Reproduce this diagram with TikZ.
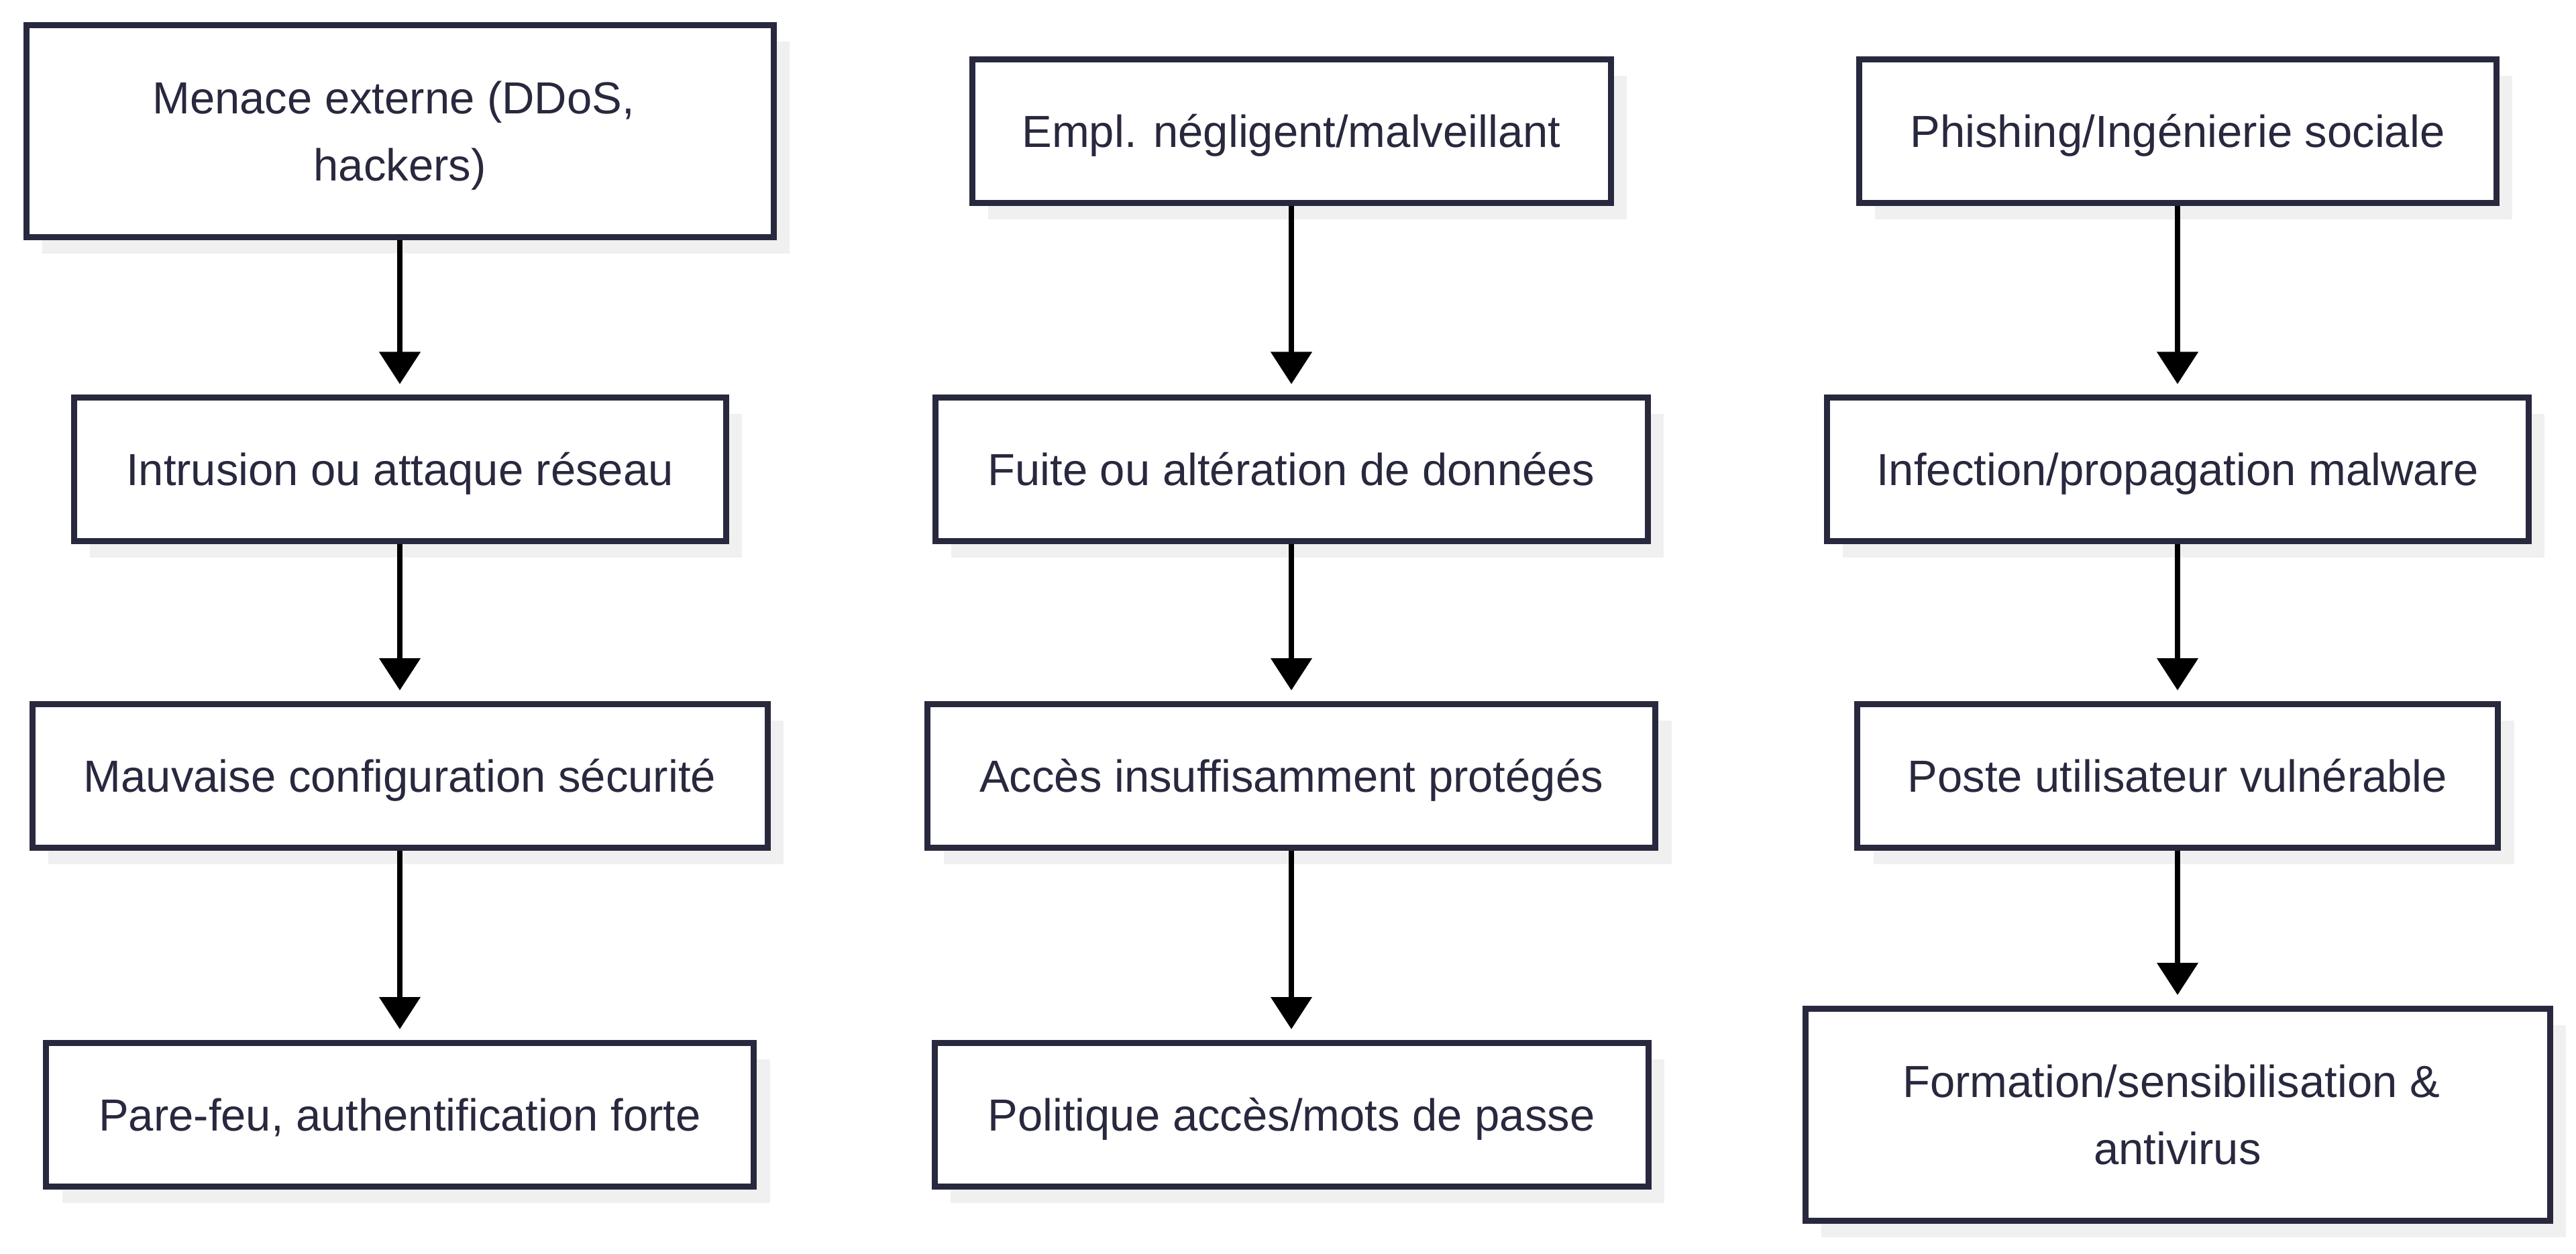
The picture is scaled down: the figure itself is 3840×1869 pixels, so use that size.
\documentclass[tikz,border=0pt]{standalone}
\usepackage{fontspec}
\setmainfont{Liberation Sans}
\usetikzlibrary{arrows.meta,shadows}
\definecolor{ink}{RGB}{40,40,62}
\definecolor{shade}{RGB}{240,240,240}
\newcommand\twoline[2]{\raisebox{0pt}[12pt][25pt]{\begin{tabular}[t]{@{}c@{}}#1\hspace*{0.278em}\\#2\end{tabular}}}
\begin{document}
\begin{tikzpicture}[x=0.25pt, y=-0.25pt,
  font=\fontsize{16.75}{25}\selectfont,
  box/.style={draw=ink, line width=2.25pt, fill=white, rectangle, inner sep=0pt,
    minimum height=53.5pt, text=ink, align=center,
    drop shadow={shadow xshift=6pt, shadow yshift=-6pt, fill=shade, opacity=1}},
  one/.style={text height=12pt, text depth=0pt},
  tall/.style={minimum height=79pt},
  arr/.style={draw=black, line width=2pt, -{Triangle[length=12pt,width=15pt]}, shorten >=4pt}]
\fill[white] (0,0) rectangle (3840,1869);
\useasboundingbox (0,0) rectangle (3840,1869);
% column 1
\node[box, tall, minimum width=278.5pt] (a1) at (596,196) {\twoline{Menace externe (DDoS,}{hackers)}};
\node[box, one, minimum width=243pt] (a2) at (596,700) {Intrusion ou attaque réseau};
\node[box, one, minimum width=274pt] (a3) at (596,1156.5) {Mauvaise configuration sécurité};
\node[box, one, minimum width=263.75pt] (a4) at (596,1661.5) {Pare-feu, authentification forte};
% column 2
\node[box, one, minimum width=238pt] (b1) at (1925,196) {Empl. négligent/malveillant};
\node[box, one, minimum width=265.5pt] (b2) at (1925,700) {Fuite ou altération de données};
\node[box, one, minimum width=271.25pt] (b3) at (1925,1156.5) {Accès insuffisamment protégés};
\node[box, one, minimum width=266pt] (b4) at (1925,1661.5) {Politique accès/mots de passe};
% column 3
\node[box, one, minimum width=237.5pt] (c1) at (3246,196) {Phishing/Ingénierie sociale};
\node[box, one, minimum width=261.5pt] (c2) at (3246,700) {Infection/propagation malware};
\node[box, one, minimum width=238.75pt] (c3) at (3246,1156.5) {Poste utilisateur vulnérable};
\node[box, tall, minimum width=277.5pt] (c4) at (3246,1661.5) {\twoline{Formation/sensibilisation \&}{antivirus}};
% arrows
\draw[arr] (a1.south) -- (a2.north);
\draw[arr] (a2.south) -- (a3.north);
\draw[arr] (a3.south) -- (a4.north);
\draw[arr] (b1.south) -- (b2.north);
\draw[arr] (b2.south) -- (b3.north);
\draw[arr] (b3.south) -- (b4.north);
\draw[arr] (c1.south) -- (c2.north);
\draw[arr] (c2.south) -- (c3.north);
\draw[arr] (c3.south) -- (c4.north);
\end{tikzpicture}
\end{document}
